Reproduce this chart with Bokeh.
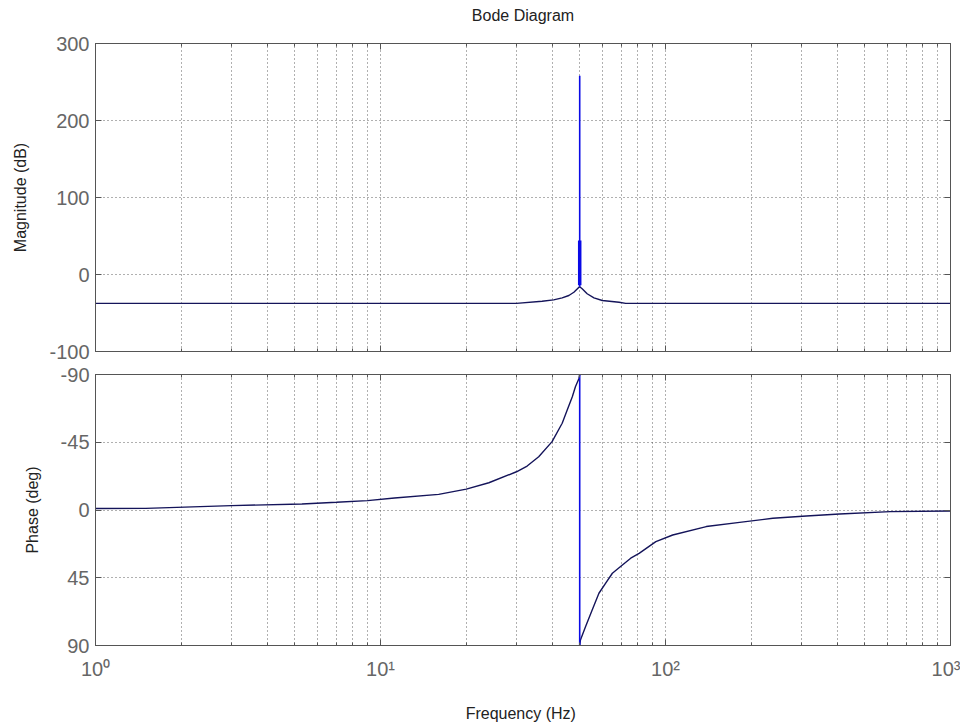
from bokeh.plotting import figure
from bokeh.models import Range1d, FixedTicker, LogAxis, LinearAxis
from bokeh.layouts import column
from bokeh.embed import file_html
from bokeh.resources import INLINE

# ---- data ----
mag_freq = [1, 10, 30, 36.9, 40.5, 43.4, 45.8, 47.7, 49.7, 50, 51, 53.1, 56.1, 60, 68.7, 72.5, 100, 1000]
mag_db = [-37.5, -37.5, -37.5, -34.7, -32.9, -30.3, -27.3, -23.0, -16.5, -16.0, -18.6, -25.0, -30.3, -33.8, -36.0, -37.5, -37.5, -37.5]
spike_freq = [50, 50]
spike_db = [-16, 258]
spike_thick_db = [-14, 44]

ph_lo_freq = [1, 1.5, 3, 5.3, 7, 9, 11.2, 16, 20, 24, 30, 32.7, 35.9, 40, 43.4, 45.2, 47.1, 48.3, 49.7, 50]
ph_lo = [-1.0, -1.1, -2.9, -4.0, -5.1, -6.2, -8.0, -10.4, -13.9, -18.1, -25.4, -29.2, -35.4, -45.4, -57.6, -66.4, -75.2, -81.9, -87.4, -90]
ph_hi_freq = [50, 50.3, 52.4, 55.3, 58.4, 61.6, 65.1, 70.6, 75.5, 80.8, 92.5, 106, 139, 182, 238, 312, 408, 614, 1000]
ph_hi = [90, 86.3, 77.5, 66.4, 55.3, 48.7, 42.0, 36.5, 32.0, 28.8, 21.0, 16.6, 11.0, 8.2, 5.5, 4.0, 2.7, 1.1, 0.7]
jump_freq = [50, 50]
jump_ph = [-90, 90]

x_major = [1, 10, 100, 1000]
x_labels = ["10\u2070", "10\u00b9", "10\u00b2", "10\u00b3"]
mag_ticks = [-100, 0, 100, 200, 300]
mag_labels = ["-100", "0", "100", "200", "300"]
ph_ticks = [-90, -45, 0, 45, 90]
ph_labels = ["-90", "-45", "0", "45", "90"]

x_minor = [m * d for d in (1, 10, 100) for m in range(2, 10)]

FONT = "Liberation Sans"
CURVE = "#14145a"
BLUE = "#0a0ae6"
FRAME = "#555555"
GRID = "#3a3a3a"
TICKLBL = "#666666"
W = 960


def style(p, ylabel, show_x_labels):
    p.outline_line_color = FRAME
    p.outline_line_width = 1
    p.background_fill_color = "white"
    p.border_fill_color = "white"
    xt = FixedTicker(ticks=x_major, minor_ticks=x_minor)
    for ax in p.xaxis:
        ax.ticker = xt
        ax.major_tick_in = 6
        ax.major_tick_out = 0
        ax.minor_tick_in = 3
        ax.minor_tick_out = 0
        ax.axis_line_color = FRAME
        ax.major_tick_line_color = FRAME
        ax.minor_tick_line_color = FRAME
        ax.major_label_text_font = FONT
        ax.major_label_text_font_size = "20px"
        ax.major_label_text_color = TICKLBL
        ax.major_label_standoff = 12
        if show_x_labels:
            ax.major_label_overrides = dict(zip(x_major, x_labels))
        else:
            ax.major_label_overrides = {v: "" for v in x_major}
    for ax in p.yaxis:
        ax.major_tick_in = 6
        ax.major_tick_out = 0
        ax.minor_tick_line_color = None
        ax.axis_line_color = FRAME
        ax.major_tick_line_color = FRAME
        ax.major_label_text_font = FONT
        ax.major_label_text_font_size = "20px"
        ax.major_label_text_color = TICKLBL
        ax.major_label_standoff = 6
        ax.axis_label = ylabel
        ax.axis_label_text_font = FONT
        ax.axis_label_text_font_size = "16px"
        ax.axis_label_text_font_style = "normal"
        ax.axis_label_text_color = "#222222"
        ax.axis_label_standoff = 17
    p.xgrid.ticker = xt
    p.xgrid.grid_line_color = GRID
    p.xgrid.grid_line_dash = "1 3"
    p.xgrid.grid_line_alpha = 0.8
    p.xgrid.minor_grid_line_color = GRID
    p.xgrid.minor_grid_line_dash = "1 3"
    p.xgrid.minor_grid_line_alpha = 0.8
    p.ygrid.grid_line_color = GRID
    p.ygrid.grid_line_dash = "1 3"
    p.ygrid.grid_line_alpha = 0.8

    # box ticks on top and right
    top = LogAxis(ticker=xt, major_tick_in=6, major_tick_out=0, minor_tick_in=3, minor_tick_out=0,
                  axis_line_color=FRAME, major_tick_line_color=FRAME, minor_tick_line_color=FRAME,
                  major_label_overrides={v: "" for v in x_major}, major_label_standoff=0,
                  major_label_text_font_size="1px")
    p.add_layout(top, "above")
    return top


# ---- magnitude ----
p1 = figure(width=W, height=362, x_axis_type="log", x_range=Range1d(1, 1000),
            y_range=Range1d(-100, 300), output_backend="svg", toolbar_location=None,
            min_border_left=95, min_border_right=10, min_border_top=43, min_border_bottom=11)
p1.yaxis.ticker = FixedTicker(ticks=mag_ticks)
p1.yaxis.major_label_overrides = dict(zip(mag_ticks, mag_labels))
p1.ygrid.ticker = FixedTicker(ticks=mag_ticks)
top1 = style(p1, "Magnitude (dB)", False)
top1.axis_label = "Bode Diagram"
top1.axis_label_text_font = FONT
top1.axis_label_text_font_size = "16px"
top1.axis_label_text_font_style = "normal"
top1.axis_label_text_color = "#222222"
top1.axis_label_standoff = 20
p1.add_layout(LinearAxis(ticker=FixedTicker(ticks=mag_ticks), major_tick_in=6, major_tick_out=0,
                         axis_line_color=FRAME, major_tick_line_color=FRAME, minor_tick_line_color=None,
                         major_label_overrides={v: "" for v in mag_ticks}, major_label_standoff=0,
                         major_label_text_font_size="1px"), "right")
p1.line(mag_freq, mag_db, line_color=CURVE, line_width=1.4)
p1.line(spike_freq, spike_db, line_color=BLUE, line_width=1.6)
p1.line(spike_freq, spike_thick_db, line_color=BLUE, line_width=3.5)

# ---- phase ----
p2 = figure(width=W, height=362, x_axis_type="log", x_range=Range1d(1, 1000),
            y_range=Range1d(90, -90), output_backend="svg", toolbar_location=None,
            min_border_left=95, min_border_right=10, min_border_top=12, min_border_bottom=79)
p2.yaxis.ticker = FixedTicker(ticks=ph_ticks)
p2.yaxis.major_label_overrides = dict(zip(ph_ticks, ph_labels))
p2.ygrid.ticker = FixedTicker(ticks=ph_ticks)
style(p2, "Phase (deg)", True)
bx = p2.below[0]
bx.axis_label = "Frequency  (Hz)"
bx.axis_label_text_font = FONT
bx.axis_label_text_font_size = "16px"
bx.axis_label_text_font_style = "normal"
bx.axis_label_text_color = "#222222"
bx.axis_label_standoff = 22
p2.add_layout(LinearAxis(ticker=FixedTicker(ticks=ph_ticks), major_tick_in=6, major_tick_out=0,
                         axis_line_color=FRAME, major_tick_line_color=FRAME, minor_tick_line_color=None,
                         major_label_overrides={v: "" for v in ph_ticks}, major_label_standoff=0,
                         major_label_text_font_size="1px"), "right")
p2.line(ph_lo_freq, ph_lo, line_color=CURVE, line_width=1.4)
p2.line(ph_hi_freq, ph_hi, line_color=CURVE, line_width=1.4)
p2.line(jump_freq, jump_ph, line_color=BLUE, line_width=1.6)

layout = column(p1, p2)
open("out.html", "w").write(file_html(layout, INLINE))
